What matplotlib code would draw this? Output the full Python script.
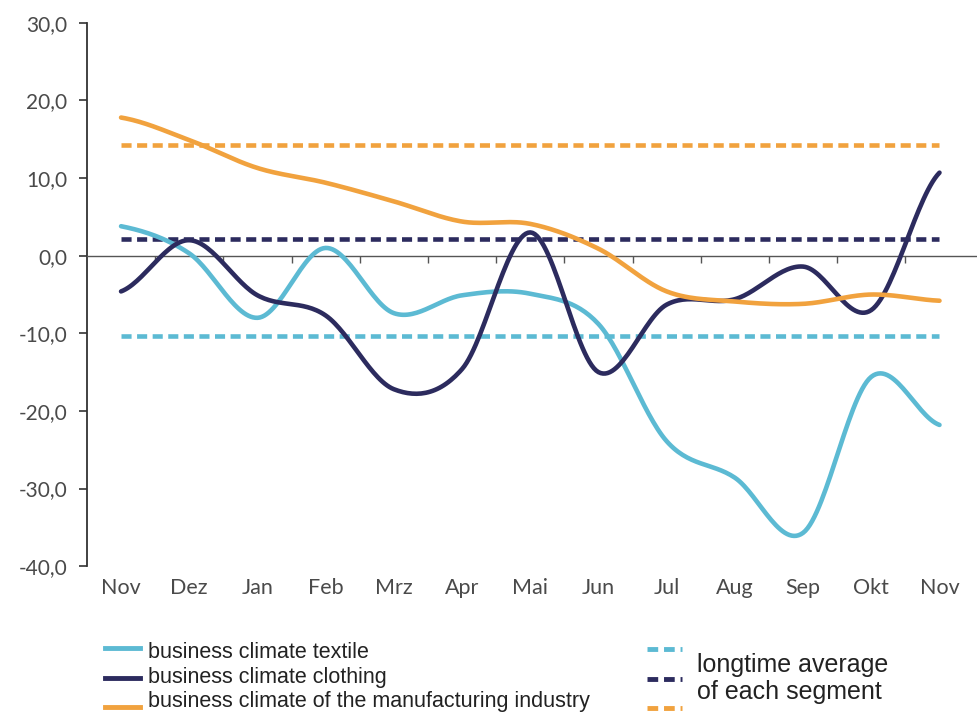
import numpy as np
import matplotlib
matplotlib.use('Agg')
import matplotlib.pyplot as plt
from matplotlib import font_manager
from matplotlib.lines import Line2D
from matplotlib.transforms import blended_transform_factory

# Données
mois = ['Nov', 'Dez', 'Jan', 'Feb', 'Mrz', 'Apr', 'Mai', 'Jun', 'Jul', 'Aug', 'Sep', 'Okt', 'Nov']
textile = [3.8, 0.3, -8.0, 1.0, -7.4, -5.1, -4.9, -8.8, -23.9, -28.6, -35.7, -15.6, -21.8]
clothing = [-4.6, 2.0, -5.1, -7.7, -17.2, -14.6, 3.0, -15.0, -6.3, -5.6, -1.4, -7.0, 10.7]
manufacturing = [17.8, 14.9, 11.3, 9.4, 7.0, 4.4, 4.1, 0.9, -4.6, -5.9, -6.2, -5.0, -5.8]
moy_textile = -10.3
moy_clothing = 2.1
moy_manufacturing = 14.2

c_textile = '#5cbad3'
c_clothing = '#2c2b5e'
c_manuf = '#f1a23e'

installed = {f.name for f in font_manager.fontManager.ttflist}
tick_font = 'Lato' if 'Lato' in installed else 'DejaVu Sans'
leg_font = 'Liberation Sans Narrow' if 'Liberation Sans Narrow' in installed else 'Liberation Sans'


def lisser(y, n=30):
    # courbe lissée façon Excel (Catmull-Rom)
    y = np.asarray(y, dtype=float)
    p = np.concatenate([[y[0]], y, [y[-1]]])
    xs, ys = [], []
    t = np.linspace(0, 1, n, endpoint=False)
    for i in range(len(y) - 1):
        p0, p1, p2, p3 = p[i], p[i + 1], p[i + 2], p[i + 3]
        v = 0.5 * (2 * p1 + (-p0 + p2) * t + (2 * p0 - 5 * p1 + 4 * p2 - p3) * t ** 2
                   + (-p0 + 3 * p1 - 3 * p2 + p3) * t ** 3)
        xs.extend(i + t)
        ys.extend(v)
    xs.append(len(y) - 1)
    ys.append(y[-1])
    return np.array(xs), np.array(ys)


fig = plt.figure(figsize=(9.77, 7.14), dpi=100)
ax = fig.add_axes([0.089, 0.207, 0.911, 0.761])

x = np.arange(len(mois))
for serie, col in [(textile, c_textile), (clothing, c_clothing), (manufacturing, c_manuf)]:
    xs, ys = lisser(serie)
    ax.plot(xs, ys, color=col, lw=3.3, solid_capstyle='round', zorder=3)

for val, col in [(moy_manufacturing, c_manuf), (moy_clothing, c_clothing), (moy_textile, c_textile)]:
    ax.plot([x[0], x[-1]], [val, val], color=col, lw=3.3, ls=(0, (2.2, 1.2)), zorder=2)

ax.set_xlim(-0.5, 12.55)
ax.set_ylim(-40, 30)
ax.set_yticks(np.arange(-40, 31, 10))
ax.set_yticklabels([f'{v:.1f}'.replace('.', ',') for v in np.arange(-40, 31, 10)],
                   fontsize=15, color='#4a4a4a', family=tick_font)
ax.tick_params(axis='y', length=6, width=1.2, color='#333333', pad=8)

for s in ['top', 'right']:
    ax.spines[s].set_visible(False)
ax.spines['left'].set_color('#333333')
ax.spines['left'].set_linewidth(1.3)
ax.spines['bottom'].set_position(('data', 0))
ax.spines['bottom'].set_color('#555555')
ax.spines['bottom'].set_linewidth(1.0)
ax.set_xticks(x)
ax.set_xticklabels([])
ax.tick_params(axis='x', which='major', length=0)
ax.set_xticks(np.arange(0.5, 12.5, 1), minor=True)
ax.tick_params(axis='x', which='minor', length=5, width=1.0, color='#555555', direction='out')

trans = blended_transform_factory(ax.transData, ax.transAxes)
for i, m in enumerate(mois):
    ax.text(i, -0.04, m, transform=trans, ha='center', va='center',
            fontsize=15.5, color='#4a4a4a', family=tick_font)

# Légende en bas
noms = ['business climate textile', 'business climate clothing',
        'business climate of the manufacturing industry']
cols = [c_textile, c_clothing, c_manuf]
ys_txt = [652, 677, 702]
ys_h = [648, 678, 707]
H = 714
for nom, col, yt, yh in zip(noms, cols, ys_txt, ys_h):
    fig.add_artist(Line2D([105 / 977, 140 / 977], [1 - yh / H, 1 - yh / H], color=col, lw=3.5))
    fig.text(148 / 977, 1 - yt / H, nom, fontsize=15.5, va='center', color='#222222', family=leg_font)
    fig.add_artist(Line2D([647 / 977, 682 / 977], [1 - (yh + 1) / H, 1 - (yh + 1) / H], color=col,
                          lw=3.5, ls=(0, (2.2, 1.2))))
fig.text(697 / 977, 1 - 665 / H, 'longtime average', fontsize=18, va='center', color='#222222', family=leg_font)
fig.text(697 / 977, 1 - 692 / H, 'of each segment', fontsize=18, va='center', color='#222222', family=leg_font)

fig.savefig('out.png', dpi=100, facecolor='white')
